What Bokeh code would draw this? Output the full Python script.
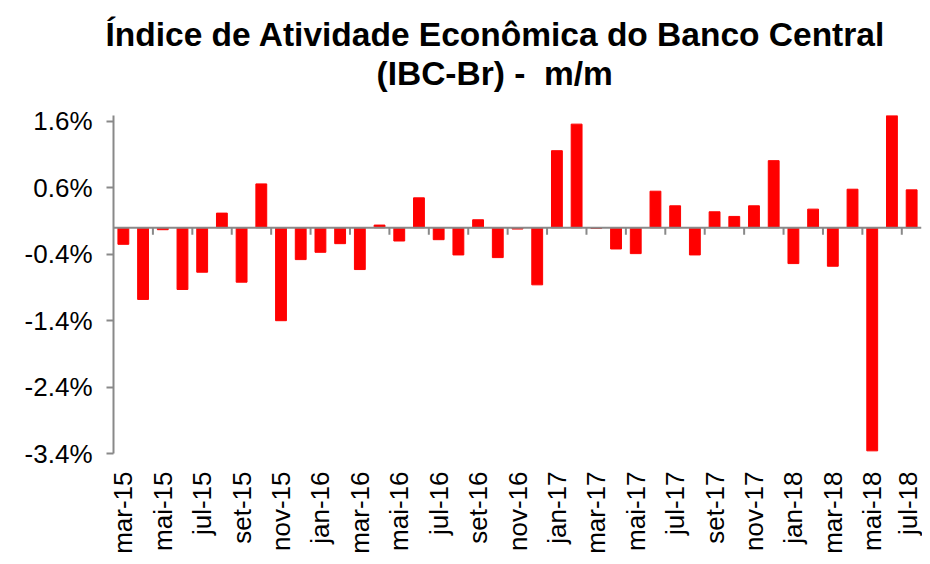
import math
from bokeh.plotting import figure
from bokeh.models import (ColumnDataSource, Range1d, FixedTicker, Span, LinearAxis,
                          PrintfTickFormatter, Title)
from bokeh.embed import file_html
from bokeh.resources import INLINE

# ---- data ----
months = ["mar-15", "abr-15", "mai-15", "jun-15", "jul-15", "ago-15", "set-15", "out-15",
          "nov-15", "dez-15", "jan-16", "fev-16", "mar-16", "abr-16", "mai-16", "jun-16",
          "jul-16", "ago-16", "set-16", "out-16", "nov-16", "dez-16", "jan-17", "fev-17",
          "mar-17", "abr-17", "mai-17", "jun-17", "jul-17", "ago-17", "set-17", "out-17",
          "nov-17", "dez-17", "jan-18", "fev-18", "mar-18", "abr-18", "mai-18", "jun-18",
          "jul-18"]
values = [-0.25, -1.08, -0.03, -0.93, -0.67, 0.22, -0.82, 0.66, -1.40, -0.48,
          -0.37, -0.24, -0.63, 0.04, -0.20, 0.45, -0.18, -0.41, 0.12, -0.45,
          -0.02, -0.86, 1.16, 1.56, -0.01, -0.32, -0.39, 0.55, 0.33, -0.41,
          0.24, 0.17, 0.33, 1.01, -0.54, 0.28, -0.58, 0.58, -3.36, 1.71, 0.57]
y_ticks = [1.6, 0.6, -0.4, -1.4, -2.4, -3.4]
title_line1 = "Índice de Atividade Econômica do Banco Central"
title_line2 = "(IBC-Br) -\u00a0 m/m"

n = len(months)
xs = list(range(n))
src = ColumnDataSource(dict(x=xs, top=values, label=months))
boundaries = [i - 0.5 for i in xs[2::2]]
tick_src = ColumnDataSource(dict(x=boundaries, y=[0] * len(boundaries)))

FONT = "Liberation Sans"
GRAY = "#898989"

p = figure(width=922, height=556, output_backend="svg", toolbar_location=None,
           x_range=Range1d(-0.5, n - 0.5), y_range=Range1d(-3.4, 1.69),
           x_axis_location="below", min_border_left=113, min_border_right=1,
           min_border_top=115, min_border_bottom=98)
p.outline_line_color = None
p.grid.grid_line_color = None
p.background_fill_color = "white"
p.border_fill_color = "white"

p.vbar(x="x", top="top", bottom=0, width=0.55, color="#FF0000", source=src)

# zero line with boundary ticks every two months
p.add_layout(Span(location=0, dimension="width", line_color=GRAY, line_width=2))
p.ray(x="x", y="y", length=7, length_units="screen", angle=-math.pi / 2,
      line_color=GRAY, line_width=2, source=tick_src)

# bottom label axis (every other month)
xa = p.xaxis[0]
xa.ticker = FixedTicker(ticks=xs[::2])
xa.major_label_overrides = {i: months[i] for i in xs[::2]}
xa.major_label_orientation = math.pi / 2
xa.axis_line_color = None
xa.major_tick_line_color = None
xa.major_tick_out = 0
xa.major_tick_in = 0
xa.minor_tick_line_color = None
xa.major_label_text_font = FONT
xa.major_label_text_font_size = "26px"
xa.major_label_text_color = "black"
xa.major_label_standoff = 18

# y axis
ya = p.yaxis[0]
ya.ticker = FixedTicker(ticks=y_ticks)
ya.formatter = PrintfTickFormatter(format="%.1f%%")
ya.axis_line_color = GRAY
ya.axis_line_width = 2
ya.major_tick_line_color = GRAY
ya.major_tick_line_width = 2
ya.major_tick_out = 7
ya.major_tick_in = 0
ya.minor_tick_line_color = None
ya.major_label_text_font = FONT
ya.major_label_text_font_size = "26px"
ya.major_label_text_color = "black"
ya.major_label_standoff = 14

# blank spacer between title and frame: one white tick at the right edge, no labels
spacer = LinearAxis(ticker=FixedTicker(ticks=[n - 0.5]), axis_line_color=None,
                    major_tick_line_color="white", minor_tick_line_color=None,
                    major_tick_out=23, major_tick_in=0, minor_tick_out=0,
                    major_label_standoff=0, major_label_text_color=None,
                    major_label_text_font_size="1px")
p.add_layout(spacer, "above")

# two-line title
p.title.text = title_line1
p.title.align = "left"
p.title.offset = -8
p.title.text_font = FONT
p.title.text_font_size = "33.5px"
p.title.text_font_style = "bold"
p.title.text_color = "black"
p.title.standoff = 0
t2 = Title(text=title_line2, align="left", offset=263, text_font=FONT,
           text_font_size="33.5px", text_font_style="bold", text_color="black",
           standoff=1)
p.add_layout(t2, "above")

open("out.html", "w").write(file_html(p, INLINE))
